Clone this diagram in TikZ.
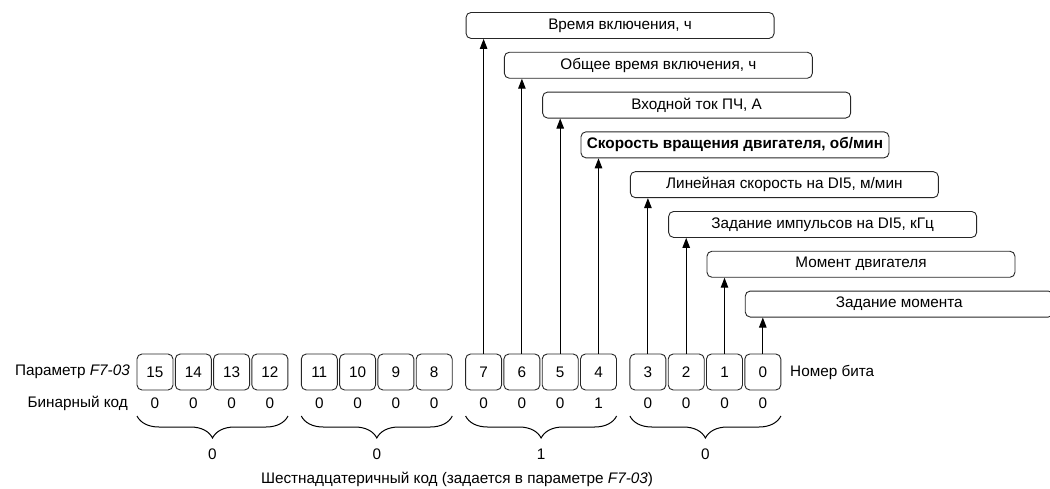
\documentclass[tikz,border=0pt]{standalone}
\usepackage{fontspec}
\setmainfont{Liberation Sans}
\usetikzlibrary{arrows.meta,decorations.pathreplacing}
\begin{document}
\begin{tikzpicture}[x=1pt,y=-1pt,
  every node/.style={font=\fontsize{15.3}{18}\selectfont, inner sep=0pt},
  lbl/.style={draw=black!85, line width=0.9pt, rounded corners=5pt, minimum width=308pt, minimum height=26pt, anchor=north west},
  bitbox/.style={draw=black!85, line width=0.9pt, rounded corners=5pt, minimum width=36pt, minimum height=36pt},
  arr/.style={line width=1pt, -{Triangle[length=10pt,width=7.5pt]}},
  brc/.style={decorate, decoration={brace, amplitude=22pt}, line width=1pt}
]
\useasboundingbox (0,0) rectangle (1050,488);
\clip (0,0) rectangle (1050,488);

% bit boxes and binary code
\foreach \n in {0,...,15} {
  \pgfmathtruncatemacro{\g}{3-int(\n/4)}
  \pgfmathtruncatemacro{\k}{3-mod(\n,4)}
  \pgfmathsetmacro{\cx}{155+164.3*\g+38.3*\k}
  \pgfmathtruncatemacro{\val}{\n==4 ? 1 : 0}
  \node[bitbox] (b\n) at (\cx,372) {\n};
  \node (v\n) at (\cx,403) {\val};
}

% labels
\node[lbl] (L7) at (465.6,12)    {Время включения, ч};
\node[lbl] (L6) at (503.9,51.8)  {Общее время включения, ч};
\node[lbl] (L5) at (542.2,91.6)  {Входной ток ПЧ, А};
\node[lbl] (L4) at (580.5,131.4) {\textbf{Скорость вращения двигателя, об/мин}};
\node[lbl] (L3) at (629.9,171.2) {Линейная скорость на DI5, м/мин};
\node[lbl] (L2) at (668.2,211)   {Задание импульсов на DI5, кГц};
\node[lbl] (L1) at (706.5,250.8) {Момент двигателя};
\node[lbl] (L0) at (744.8,290.6) {Задание момента};

\foreach \n in {0,...,7} {
  \draw[arr] (b\n.north) -- (b\n.north |- L\n.south);
}

% side labels
\node[anchor=east] (par) at (130,372) {Параметр \textit{F7-03}};
\node[anchor=east] (bin) at (128,403) {Бинарный код};
\node[anchor=west] (num) at (790,372) {Номер бита};

% braces and hex digits
\foreach \g/\h in {0/0,1/0,2/1,3/0} {
  \pgfmathsetmacro{\lx}{137+164.3*\g}
  \pgfmathsetmacro{\rx}{\lx+151}
  \pgfmathsetmacro{\mx}{\lx+75.5}
  \coordinate (bl\g) at (\lx,416);
  \coordinate (br\g) at (\rx,416);
  \draw[brc] (br\g) -- (bl\g);
  \node (h\g) at (\mx,454) {\h};
}

\node (hex) at (457,479) {Шестнадцатеричный код (задается в параметре \textit{F7-03})};
\end{tikzpicture}
\end{document}
